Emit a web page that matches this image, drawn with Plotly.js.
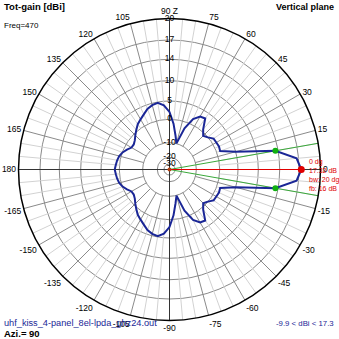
<!DOCTYPE html>
<html><head><meta charset="utf-8">
<script src="https://cdn.plot.ly/plotly-3.0.1.min.js"></script>
<style>html,body{margin:0;padding:0;background:#fff;}#chart{width:339px;height:339px;}</style>
</head><body><div id="chart"></div>
<script>
// ---- data ----
const angleTicks = [0,15,30,45,60,75,90,105,120,135,150,165,180,195,210,225,240,255,270,285,300,315,330,345];
const angleTickText = ['0','15','30','45','60','75','90 Z','105','120','135','150','165','180','-165','-150','-135','-120','-105','-90','-75','-60','-45','-30','-15'];
const radialTicks = [20,17,14,10,5,0,-10,-20,-30];
const radialTickText = ['20','17','14','10','5','0','-10','-20','-30'];
// elevation angles (deg) of the upper half, and gain in dBi
const anglesUpper = [0,5,10,15,20,25,30,35,40,45,50,55,60,65,70,75,80,85,90,95,100,105,110,115,120,125,130,135,140,145,150,155,160,165,170,175,180];
const gainUpper = [17.32,16.7,13.5,5.1,1.0,1.2,1.05,1.0,-0.1,-1.1,0.6,3.3,3.0,1.5,-2.7,-9.9,-6.7,-1.8,2.0,3.9,4.8,4.5,3.9,2.9,2.1,1.4,0.4,-0.8,-2.1,-2.8,-2.7,-1.4,-0.1,0.5,0.8,1.0,1.25];
// lower half: angles 0,-5,...,-180
const anglesLower = [0,-5,-10,-15,-20,-25,-30,-35,-40,-45,-50,-55,-60,-65,-70,-75,-80,-85,-90,-95,-100,-105,-110,-115,-120,-125,-130,-135,-140,-145,-150,-155,-160,-165,-170,-175,-180];
const gainLower = [17.32,16.7,13.5,5.1,1.0,1.2,1.05,1.0,-0.1,-1.1,0.6,3.3,3.0,1.5,-2.7,-9.9,-6.7,-1.8,2.0,3.9,4.8,4.5,3.9,2.9,2.1,1.4,0.4,-0.8,-2.1,-2.8,-2.7,-1.4,-0.1,0.5,0.8,1.0,1.25];
const maxGain = 17.32, maxAngle = 0, beamwidth = 20, fb = 16;
const halfPowerGain = 13.5;

// ---- radial (log-like) scale of the plot: dB -> normalised radius ----
const scaleDb = [-40,-30,-20,-10,0,5,10,14,17,20];
const scaleR  = [0,0.0364,0.0808,0.1775,0.3325,0.4536,0.5881,0.7298,0.8576,1];
function toR(db){
  if (db <= scaleDb[0]) return 0;
  for (let i=1;i<scaleDb.length;i++){
    if (db <= scaleDb[i]){
      const t=(db-scaleDb[i-1])/(scaleDb[i]-scaleDb[i-1]);
      return scaleR[i-1]+t*(scaleR[i]-scaleR[i-1]);
    }
  }
  return 1;
}

// ---- grid spokes ----
const lightR=[],lightT=[],midR=[],midT=[],axR=[],axT=[];
for (let a=0;a<360;a+=5){
  if (a%90===0){ axR.push(0,1,null); axT.push(a,a,null); }
  else if (a%15===0){ midR.push(toR(-10),1,null); midT.push(a,a,null); }
  else { lightR.push(toR(0),1,null); lightT.push(a,a,null); }
}

const patT = anglesLower.slice().reverse().concat(anglesUpper.slice(1));
const patG = gainLower.slice().reverse().concat(gainUpper.slice(1));

const font = 'Arial, "Liberation Sans", sans-serif';
const traces = [
  {type:'scatterpolar',mode:'lines',r:lightR,theta:lightT,line:{color:'#d2d2d2',width:1},hoverinfo:'skip',connectgaps:false},
  {type:'scatterpolar',mode:'lines',r:midR,theta:midT,line:{color:'#8a8a8a',width:1},hoverinfo:'skip',connectgaps:false},
  {type:'scatterpolar',mode:'lines',r:axR,theta:axT,line:{color:'#333',width:1},hoverinfo:'skip',connectgaps:false},
  {type:'scatterpolar',mode:'lines',r:[0,1,null,0,1],theta:[beamwidth/2,beamwidth/2,null,-beamwidth/2,-beamwidth/2],line:{color:'#3aa83a',width:1},hoverinfo:'skip',connectgaps:false},
  {type:'scatterpolar',mode:'lines',r:[0,toR(maxGain)],theta:[maxAngle,maxAngle],line:{color:'#e00000',width:1},hoverinfo:'skip'},
  {type:'scatterpolar',mode:'lines',r:patG.map(toR),theta:patT,line:{color:'#1a2696',width:2},hoverinfo:'skip'},
  {type:'scatterpolar',mode:'markers',r:[toR(halfPowerGain),toR(halfPowerGain)],theta:[beamwidth/2,-beamwidth/2],marker:{color:'#10b010',size:6},hoverinfo:'skip'},
  {type:'scatterpolar',mode:'markers',r:[toR(maxGain)],theta:[maxAngle],marker:{color:'#e00000',size:7},hoverinfo:'skip'},
  {type:'scatterpolar',mode:'markers',r:[0],theta:[0],marker:{color:'#b04010',size:4},hoverinfo:'skip'},
  {type:'scatterpolar',mode:'text',r:radialTicks.map(toR),theta:radialTicks.map(()=>90),text:radialTickText,textposition:'middle center',textfont:{family:font,size:8.5,color:'#000'},hoverinfo:'skip',cliponaxis:false}
];

function ann(text,xpx,ypx,opts){
  return Object.assign({text:text,xref:'paper',yref:'paper',x:xpx/339,y:1-ypx/339,xanchor:'left',yanchor:'middle',showarrow:false,font:{family:font,size:9,color:'#000'}},opts||{});
}
const annotations = [
  ann('<b>Tot-gain [dBi]</b>',2,7,{font:{family:font,size:9.5,color:'#000'}}),
  ann('Freq=470',2,25,{font:{family:font,size:8,color:'#000'}}),
  ann('<b>Vertical plane</b>',336,7,{xanchor:'right',font:{family:font,size:9,color:'#000'}}),
  ann('uhf_kiss_4-panel_8el-lpda_ghz24.out',2,323,{font:{family:font,size:9.2,color:'#1a2696'}}),
  ann('<b>Azi.= 90</b>',2,333,{font:{family:font,size:9.5,color:'#000'}}),
  ann('-9.9 &lt; dBi &lt; 17.3',336,323,{xanchor:'right',font:{family:font,size:7.8,color:'#1a2696'}}),
  ann(maxAngle+' dg',307,162,{font:{family:font,size:7,color:'#e00000'}}),
  ann(maxGain.toFixed(2)+' dB',307,170.5,{font:{family:font,size:7,color:'#e00000'}}),
  ann('bw: '+beamwidth+' dg',307,180,{font:{family:font,size:7,color:'#e00000'}}),
  ann('fb: '+fb+' dB',307,188.5,{font:{family:font,size:7,color:'#e00000'}})
];

const layout = {
  width:339,height:339,margin:{l:0,r:0,t:0,b:0},paper_bgcolor:'#fff',showlegend:false,
  font:{family:font},
  polar:{
    domain:{x:[18.5/339,320.5/339],y:[18.5/339,320.5/339]},
    bgcolor:'#fff',
    radialaxis:{range:[0,1],tickmode:'array',tickvals:radialTicks.map(toR),showticklabels:false,ticks:'',showline:false,gridcolor:'#8a8a8a',gridwidth:1,angle:90},
    angularaxis:{rotation:0,direction:'counterclockwise',tickmode:'array',tickvals:angleTicks,ticktext:angleTickText,showgrid:false,ticks:'',showline:true,linecolor:'#000',linewidth:1.5,tickfont:{family:font,size:8.5,color:'#000'}}
  },
  annotations:annotations
};
Plotly.newPlot('chart',traces,layout,{staticPlot:true,displayModeBar:false});
</script>
</body></html>
